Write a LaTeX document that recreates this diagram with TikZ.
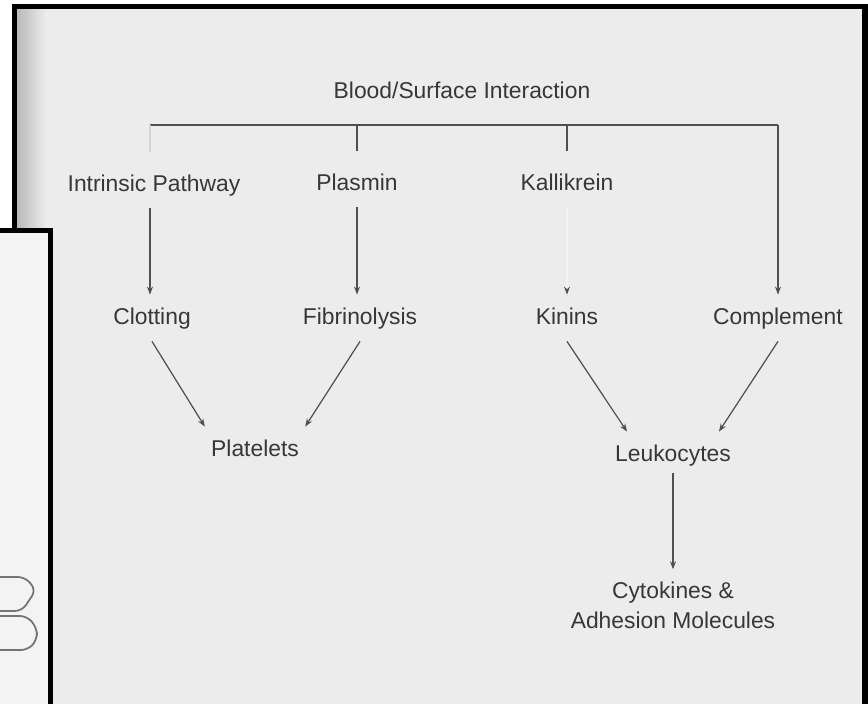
\documentclass[tikz,border=0pt]{standalone}
\usepackage{fontspec}
\setmainfont{Liberation Sans}
\usetikzlibrary{positioning}
\usetikzlibrary{arrows.meta}
\definecolor{pagegray}{RGB}{236,236,236}
\definecolor{boxgray}{RGB}{243,243,243}
\definecolor{ink}{RGB}{55,55,55}
\definecolor{wire}{RGB}{80,80,80}
\tikzset {
  % text labels on the scanned page
  main/.style = {text=ink, font=\fontsize{6.5}{8.5}\selectfont, align=center},
  lbl/.style = {main, text height=1.7mm, text depth=0.5mm},
  % plain lines and arrows
  link/.style = {draw=wire, line width=0.35pt},
  arr/.style = {link, -{Stealth[length=0.8mm, width=0.6mm]}},
  % lines that faded in the scan
  faint/.style = {draw=wire!25, line width=0.35pt},
  faded/.style = {draw=wire!6, line width=0.35pt, -{Stealth[length=0.8mm, width=0.6mm, color=wire]}},
  % thick black borders of the pages
  frame/.style = {draw=black, line width=1.45pt},
}

\begin{document}
\begin{tikzpicture}
  \useasboundingbox (0,0) rectangle (8.68,-7.04);
  \clip (0,0) rectangle (8.68,-7.04);

  % main page
  \fill[pagegray] (0.145,-0.065) rectangle (8.65,-7.2);
  \shade[left color=gray!55, right color=pagegray] (0.17,-0.09) rectangle (0.46,-7.1);
  \draw[frame] (0.145,-7.2) |- (8.65,-0.065) -- (8.65,-7.2);

  % page on the left
  \fill[boxgray] (-0.1,-2.305) rectangle (0.505,-7.2);
  \draw[frame] (-0.1,-2.305) -- (0.505,-2.305) -- (0.505,-7.2);
  \draw[wire!80, line width=0.5pt, rounded corners=2pt]
    (-0.1,-5.77) -- (0.25,-5.77) -- (0.36,-5.90) -- (0.22,-6.11) -- (-0.1,-6.11);
  \draw[wire!80, line width=0.5pt, rounded corners=2pt]
    (-0.1,-6.16) -- (0.27,-6.16) -- (0.37,-6.28) -- (0.37,-6.40) -- (0.28,-6.50) -- (-0.1,-6.50);

  \node[lbl] (top) at (4.62,-0.92) {Blood/Surface Interaction};

  \node[lbl] (intr) at (1.54,-1.85) {Intrinsic Pathway};
  \node[lbl] (plas) at (3.57,-1.84) {Plasmin};
  \node[lbl] (kall) at (5.67,-1.84) {Kallikrein};

  \node[lbl] (clot) at (1.52,-3.18) {Clotting};
  \node[lbl] (fibr) at (3.60,-3.18) {Fibrinolysis};
  \node[lbl] (kin)  at (5.67,-3.18) {Kinins};
  \node[lbl] (comp) at (7.78,-3.18) {Complement};

  \node[lbl] (plat) at (2.55,-4.50) {Platelets};
  \node[lbl] (leuk) at (6.73,-4.55) {Leukocytes};
  \node[main] (cyto) at (6.73,-6.05) {Cytokines \&\\Adhesion Molecules};

  \coordinate (busL) at (1.50,-1.25);
  \coordinate (busR) at (7.78,-1.25);

  \draw[link] (busL) -- (busR);
  \draw[arr] (busR) -- (comp.north);
  \draw[faint, shorten >=1mm] (busL) -- (busL |- intr.north);
  \draw[link, shorten >=1mm] (plas.north |- busL) -- (plas.north);
  \draw[link, shorten >=1mm] (kall.north |- busL) -- (kall.north);

  \draw[arr] (busL |- intr.south) -- (busL |- clot.north);
  \draw[arr] (plas.south) -- (plas.south |- fibr.north);
  \draw[faded] (kall.south) -- (kin.north);

  \draw[arr] (clot.south) -- (plat.155);
  \draw[arr] (fibr.south) -- (plat.25);
  \draw[arr] (kin.south) -- (leuk.153);
  \draw[arr] (comp.south) -- (leuk.27);
  \draw[arr, shorten <=-0.5mm] (leuk.south) -- (cyto.north);
\end{tikzpicture}
\end{document}
